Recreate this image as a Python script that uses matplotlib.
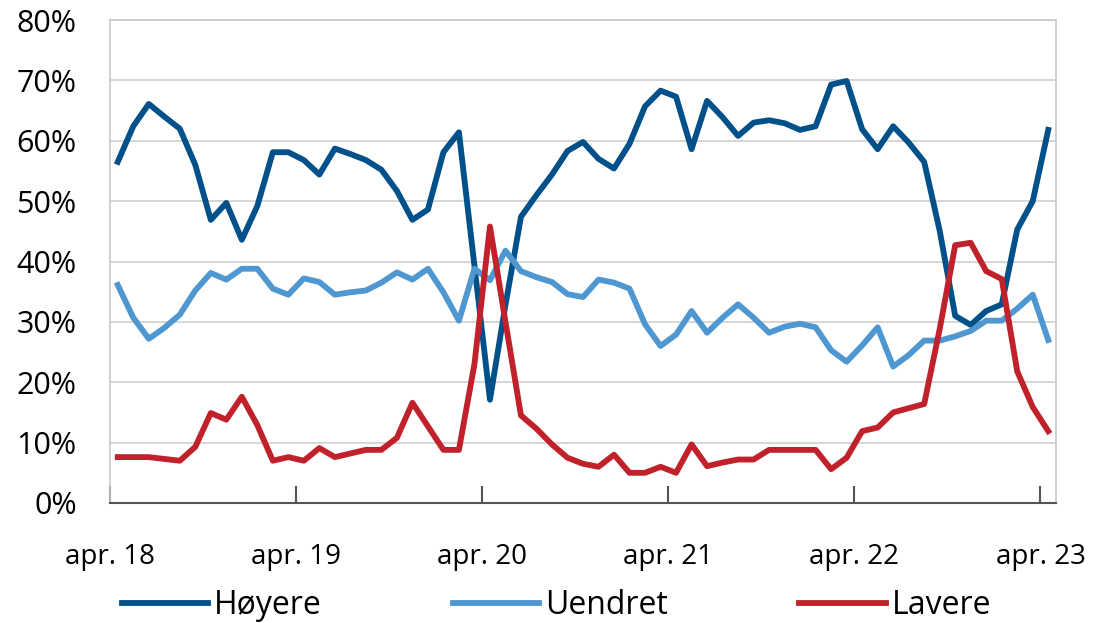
import numpy as np
import matplotlib
matplotlib.use("Agg")
import matplotlib.pyplot as plt

plt.rcParams["font.family"] = ["Open Sans", "DejaVu Sans"]

# monthly survey shares, apr. 2018 - apr. 2023
hoyere = [56.5, 62.4, 66.1, 64.0, 62.0, 56.0, 46.9, 49.7, 43.6, 49.2,
          58.1, 58.1, 56.8, 54.4, 58.7, 57.8, 56.8, 55.2, 51.7, 46.9,
          48.6, 58.1, 61.4, 39.3, 17.1, 32.8, 47.4, 51.0, 54.4, 58.3,
          59.8, 57.0, 55.4, 59.5, 65.7, 68.3, 67.3, 58.6, 66.6, 63.9,
          60.8, 63.0, 63.4, 62.9, 61.8, 62.4, 69.3, 69.9, 61.9, 58.6,
          62.4, 59.7, 56.5, 45.1, 31.0, 29.5, 31.8, 32.9, 45.3, 50.0, 61.8]
uendret = [36.1, 30.7, 27.2, 29.0, 31.2, 35.2, 38.1, 37.0, 38.8, 38.8,
           35.5, 34.5, 37.2, 36.6, 34.5, 34.9, 35.2, 36.5, 38.2, 37.0,
           38.8, 34.9, 30.2, 38.8, 36.9, 41.8, 38.4, 37.4, 36.6, 34.6,
           34.1, 37.0, 36.5, 35.5, 29.6, 26.0, 27.9, 31.8, 28.2, 30.7,
           32.9, 30.7, 28.2, 29.2, 29.7, 29.1, 25.3, 23.4, 26.1, 29.1,
           22.6, 24.5, 26.9, 26.9, 27.6, 28.5, 30.2, 30.2, 32.2, 34.5, 27.0]
lavere = [7.6, 7.6, 7.6, 7.3, 7.0, 9.3, 14.9, 13.8, 17.6, 12.9,
          7.0, 7.6, 7.0, 9.1, 7.6, 8.2, 8.8, 8.8, 10.8, 16.6,
          12.7, 8.8, 8.8, 23.0, 45.8, 30.0, 14.5, 12.3, 9.7, 7.5,
          6.5, 6.0, 8.0, 5.0, 5.0, 6.0, 5.0, 9.7, 6.1, 6.7,
          7.2, 7.2, 8.8, 8.8, 8.8, 8.8, 5.6, 7.5, 11.9, 12.5,
          15.0, 15.7, 16.4, 28.8, 42.7, 43.1, 38.4, 37.1, 21.8, 15.9, 11.9]
tick_labels = ["apr. 18", "apr. 19", "apr. 20", "apr. 21", "apr. 22", "apr. 23"]

n = len(hoyere)
x = np.arange(n) + 0.5  # points sit in the middle of each month slot

fig = plt.figure(figsize=(11.01, 6.23), dpi=100)
ax = fig.add_axes([110 / 1101, 1 - 503 / 623, 946 / 1101, 483 / 623])

ax.plot(x, hoyere, color="#00508a", lw=4.2, label="Høyere", solid_joinstyle="round")
ax.plot(x, uendret, color="#4f97d1", lw=4.2, label="Uendret", solid_joinstyle="round")
ax.plot(x, lavere, color="#c0212b", lw=4.2, label="Lavere", solid_joinstyle="round")

ax.set_xlim(0, 61)
ax.set_ylim(0, 80)
ax.set_yticks(range(0, 81, 10))
ax.set_yticklabels([f"{v}%" for v in range(0, 81, 10)])
ax.set_xticks(range(0, 61, 12))
ax.set_xticklabels(tick_labels)

ax.grid(axis="y", color="#d0d0d0", lw=1.2)
ax.set_axisbelow(True)
for s in ["top", "right", "left"]:
    ax.spines[s].set_color("#c8c8c8")
    ax.spines[s].set_linewidth(1.2)
ax.spines["bottom"].set_color("#555555")
ax.spines["bottom"].set_linewidth(1.5)

ax.tick_params(axis="y", length=0, pad=24, labelsize=22)
ax.tick_params(axis="x", direction="in", length=12, width=1.5, color="#555555",
               pad=29, labelsize=20)

ax.legend(loc="upper center", bbox_to_anchor=(0.472, -0.178), ncol=3, frameon=False,
          fontsize=23, handlelength=2.7, columnspacing=4.1, handletextpad=0.2,
          borderaxespad=0, borderpad=0)

fig.savefig("out.png", dpi=100)
